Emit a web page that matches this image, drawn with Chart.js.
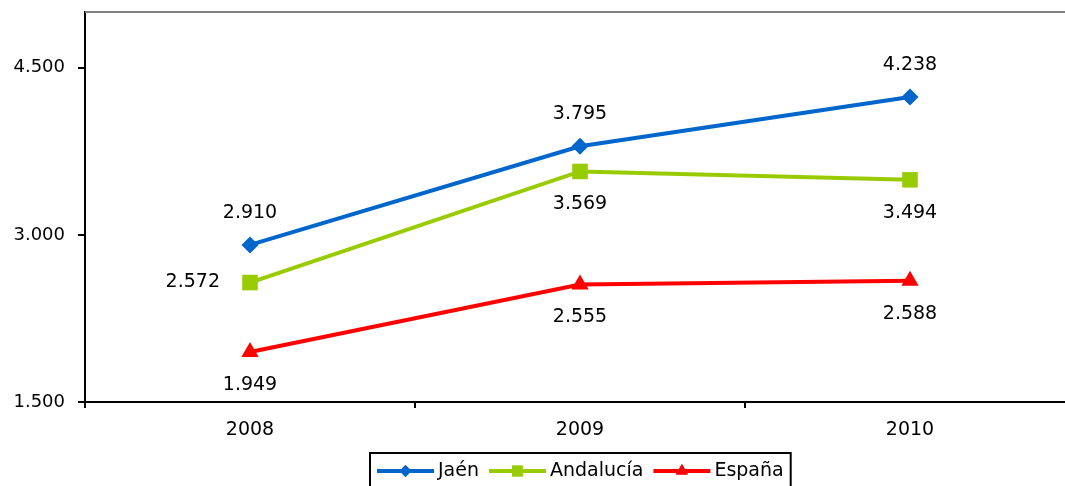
<!DOCTYPE html>
<html>
<head>
<meta charset="utf-8">
<script src="https://cdn.jsdelivr.net/npm/chart.js@4/dist/chart.umd.min.js"></script>
<style>
  html, body { margin: 0; padding: 0; background: #fff; overflow: hidden; }
  canvas { display: block; }
</style>
</head>
<body>
<canvas id="chart1" width="1086" height="486"></canvas>
<script>
// data
const years = ["2008", "2009", "2010"];
const jaen = [2910, 3795, 4238];
const andalucia = [2572, 3569, 3494];
const espana = [1949, 2555, 2588];
const yTicks = [1500, 3000, 4500];

const FONT = "'DejaVu Sans', Verdana, sans-serif";

function fmt(v) {
  return String(v).replace(/\B(?=(\d{3})+(?!\d))/g, ".");
}

// value labels next to each point
const pointLabels = {
  id: "pointLabels",
  afterDatasetsDraw(chart) {
    const ctx = chart.ctx;
    ctx.save();
    ctx.font = "19px " + FONT;
    ctx.fillStyle = "#000";
    chart.data.datasets.forEach((ds, i) => {
      const meta = chart.getDatasetMeta(i);
      meta.data.forEach((pt, j) => {
        const where = ds.labelPos[j];
        const txt = fmt(ds.data[j]);
        ctx.textBaseline = "middle";
        if (where === "left") {
          ctx.textAlign = "right";
          ctx.fillText(txt, pt.x - 30, pt.y);
        } else {
          ctx.textAlign = "center";
          ctx.fillText(txt, pt.x, where === "above" ? pt.y - 32 : pt.y + 33);
        }
      });
    });
    ctx.restore();
  }
};

// grey top border of the plot + boxed legend at the bottom
const frameAndLegend = {
  id: "frameAndLegend",
  afterDraw(chart) {
    const ctx = chart.ctx;
    const area = chart.chartArea;
    ctx.save();
    ctx.strokeStyle = "#808080";
    ctx.lineWidth = 2;
    ctx.beginPath();
    ctx.moveTo(area.left, area.top);
    ctx.lineTo(area.right + 2, area.top);
    ctx.stroke();

    ctx.font = "19px " + FONT;
    const sample = 57, gap = 4, between = 10, pad = 7;
    const items = chart.data.datasets.map(ds => ({ ds, w: ctx.measureText(ds.label).width }));
    let total = pad * 2 + between * (items.length - 1);
    items.forEach(it => total += sample + gap + it.w);
    const cx = (area.left + area.right) / 2;
    const left = Math.round(cx - total / 2);
    const top = 453;
    ctx.strokeStyle = "#000";
    ctx.lineWidth = 2;
    ctx.strokeRect(left, top, total, 60);

    let x = left + pad;
    const y = 471;
    items.forEach(it => {
      const ds = it.ds;
      ctx.strokeStyle = ds.borderColor;
      ctx.lineWidth = 4;
      ctx.beginPath();
      ctx.moveTo(x, y);
      ctx.lineTo(x + sample, y);
      ctx.stroke();
      ctx.fillStyle = ds.borderColor;
      Chart.helpers.drawPoint(ctx, {
        pointStyle: ds.pointStyle,
        radius: ds.pointRadius * 0.7,
        rotation: 0,
        borderWidth: 0
      }, x + sample / 2, y);
      ctx.fill();
      ctx.fillStyle = "#000";
      ctx.textAlign = "left";
      ctx.textBaseline = "middle";
      ctx.fillText(ds.label, x + sample + gap, y);
      x += sample + gap + it.w + between;
    });
    ctx.restore();
  }
};

const ctx = document.getElementById("chart1").getContext("2d");

new Chart(ctx, {
  type: "line",
  data: {
    labels: years,
    datasets: [
      {
        label: "Jaén",
        data: jaen,
        borderColor: "#0066CC",
        backgroundColor: "#0066CC",
        pointStyle: "rectRot",
        pointRadius: 8.5,
        labelPos: ["above", "above", "above"]
      },
      {
        label: "Andalucía",
        data: andalucia,
        borderColor: "#99CC00",
        backgroundColor: "#99CC00",
        pointStyle: "rect",
        pointRadius: 11,
        labelPos: ["left", "below", "below"]
      },
      {
        label: "España",
        data: espana,
        borderColor: "#FF0000",
        backgroundColor: "#FF0000",
        pointStyle: "triangle",
        pointRadius: 10,
        labelPos: ["below", "below", "below"]
      }
    ]
  },
  options: {
    responsive: false,
    animation: false,
    devicePixelRatio: 1,
    layout: { padding: { top: 12, right: 5, left: 0, bottom: 0 } },
    elements: {
      line: { borderWidth: 4, tension: 0 },
      point: { borderWidth: 0, hoverRadius: 8 }
    },
    scales: {
      x: {
        offset: true,
        grid: {
          offset: true,
          drawOnChartArea: false,
          color: "#000",
          lineWidth: 2,
          tickLength: 6
        },
        border: { color: "#000", width: 2 },
        ticks: {
          color: "#000",
          font: { family: FONT, size: 19 },
          padding: 11,
          maxRotation: 0
        },
        afterFit(scale) {
          scale.height = 84;
          scale.paddingLeft = 0;
          scale.paddingRight = 0;
        }
      },
      y: {
        min: 1500,
        max: 5000,
        afterBuildTicks(scale) {
          scale.ticks = yTicks.map(v => ({ value: v }));
        },
        grid: {
          drawOnChartArea: false,
          color: "#000",
          lineWidth: 2,
          tickLength: 7
        },
        border: { color: "#000", width: 2 },
        ticks: {
          color: "#000",
          font: { family: FONT, size: 18 },
          padding: 13,
          callback: v => fmt(v)
        },
        afterFit(scale) {
          scale.width = 85;
          scale.paddingTop = 0;
          scale.paddingBottom = 0;
        }
      }
    },
    plugins: {
      legend: { display: false },
      tooltip: { enabled: false }
    }
  },
  plugins: [pointLabels, frameAndLegend]
});
</script>
</body>
</html>
